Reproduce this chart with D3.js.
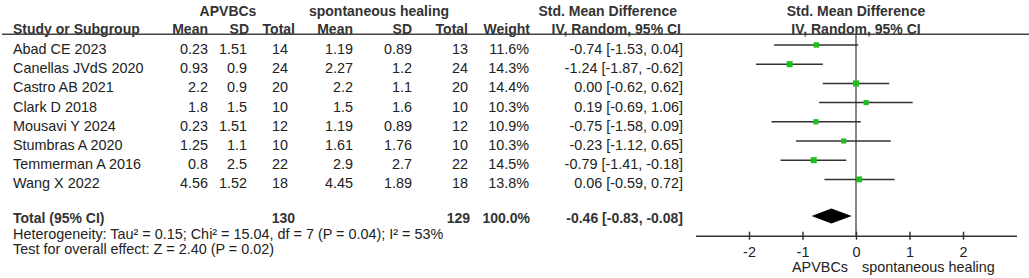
<!DOCTYPE html>
<html>
<head>
<meta charset="utf-8">
<script src="https://cdn.jsdelivr.net/npm/d3@7"></script>
<style>
  body { margin: 0; background: #fff; }
  svg { display: block; font-family: "Liberation Sans", Arial, sans-serif; }
</style>
</head>
<body>
<svg id="SVG_CONTAINER" width="1029" height="278"></svg>
<script>
// data
const studies = ["Abad CE 2023", "Canellas JVdS 2020", "Castro AB 2021", "Clark D 2018",
    "Mousavi Y 2024", "Stumbras A 2020", "Temmerman A 2016", "Wang X 2022"];
const expMean = ["0.23", "0.93", "2.2", "1.8", "0.23", "1.25", "0.8", "4.56"];
const expSD   = ["1.51", "0.9", "0.9", "1.5", "1.51", "1.1", "2.5", "1.52"];
const expN    = [14, 24, 20, 10, 12, 10, 22, 18];
const ctlMean = ["1.19", "2.27", "2.2", "1.5", "1.19", "1.61", "2.9", "4.45"];
const ctlSD   = ["0.89", "1.2", "1.1", "1.6", "0.89", "1.76", "2.7", "1.89"];
const ctlN    = [13, 24, 20, 10, 12, 10, 22, 18];
const weights = [11.6, 14.3, 14.4, 10.3, 10.9, 10.3, 14.5, 13.8];
const smd     = [-0.74, -1.24, 0.00, 0.19, -0.75, -0.23, -0.79, 0.06];
const lower   = [-1.53, -1.87, -0.62, -0.69, -1.58, -1.12, -1.41, -0.59];
const upper   = [0.04, -0.62, 0.62, 1.06, 0.09, 0.65, -0.18, 0.72];

const totalExpN = 130, totalCtlN = 129, totalWeight = "100.0%";
const pooled = { est: -0.46, lo: -0.83, hi: -0.08 };
const heterogeneity = "Heterogeneity: Tau² = 0.15; Chi² = 15.04, df = 7 (P = 0.04); I² = 53%";
const overall = "Test for overall effect: Z = 2.40 (P = 0.02)";
const tickValues = [-2, -1, 0, 1, 2];
const favourLeft = "APVBCs", favourRight = "spontaneous healing";

const svg = d3.select("#SVG_CONTAINER");
const TEXT = "#222", HEAD = "#333", GREEN = "#1dbf1d";

// plain hyphen for negatives, like RevMan output
let locale = d3.formatLocale({decimal: ".", thousands: ",", grouping: [3], currency: ["", ""], minus: "-"});
let fmt = locale.format(".2f");
let ciText = (e, l, h) => fmt(e) + " [" + fmt(l) + ", " + fmt(h) + "]";

//** SCALES *****************************************
let xScale = d3.scaleLinear().domain([-3, 3]).range([695.5, 1016.5]);
let yRow = d3.scaleLinear().domain([0, studies.length - 1]).range([54, 188.4]);
let side = d3.scaleSqrt().domain([0, 12]).range([0, 5.5]);

function txt(x, y, s, anchor, bold) {
    svg.append("text")
        .attr("x", x).attr("y", y)
        .attr("text-anchor", anchor || "start")
        .attr("font-size", bold ? "14px" : "14.4px")
        .attr("font-weight", bold ? "bold" : "normal")
        .attr("fill", bold ? HEAD : TEXT)
        .text(s);
}

//** HEADERS *****************************************
txt(228, 15.5, "APVBCs", "middle", true);
txt(379, 15.5, "spontaneous healing", "middle", true);
txt(677, 15.5, "Std. Mean Difference", "end", true);
txt(xScale(0), 15.5, "Std. Mean Difference", "middle", true);

txt(13, 33.5, "Study or Subgroup", "start", true);
txt(208, 33.5, "Mean", "end", true);
txt(249, 33.5, "SD", "end", true);
txt(295, 33.5, "Total", "end", true);
txt(353, 33.5, "Mean", "end", true);
txt(412, 33.5, "SD", "end", true);
txt(468, 33.5, "Total", "end", true);
txt(530, 33.5, "Weight", "end", true);
txt(681, 33.5, "IV, Random, 95% CI", "end", true);
txt(xScale(0), 33.5, "IV, Random, 95% CI", "middle", true);

svg.append("line")
    .attr("x1", 2).attr("x2", 1029)
    .attr("y1", 34.3).attr("y2", 34.3)
    .attr("stroke", "#444").attr("stroke-width", 1.5);

//** STUDY ROWS *****************************************
studies.forEach((s, i) => {
    let y = yRow(i);
    txt(13, y, s);
    txt(208, y, expMean[i], "end");
    txt(247, y, expSD[i], "end");
    txt(288, y, expN[i], "end");
    txt(353, y, ctlMean[i], "end");
    txt(412, y, ctlSD[i], "end");
    txt(468, y, ctlN[i], "end");
    txt(529, y, weights[i].toFixed(1) + "%", "end");
    txt(683, y, ciText(smd[i], lower[i], upper[i]), "end");
});

//** TOTAL ROW *****************************************
let yTot = 223.3;
txt(13, yTot, "Total (95% CI)", "start", true);
txt(295, yTot, totalExpN, "end", true);
txt(470, yTot, totalCtlN, "end", true);
txt(530, yTot, totalWeight, "end", true);
txt(683, yTot, ciText(pooled.est, pooled.lo, pooled.hi), "end", true);
txt(13, 238.5, heterogeneity);
txt(13, 253.5, overall);

//** FOREST PLOT *****************************************
let axisY = 235.7;
let plot = svg.append("g").attr("class", "forest");

plot.append("line")
    .attr("x1", xScale(0)).attr("x2", xScale(0))
    .attr("y1", 35).attr("y2", axisY)
    .attr("stroke", "#444").attr("stroke-width", 1.3);

plot.selectAll(".ci")
    .data(studies)
    .enter()
    .append("line")
    .attr("class", "ci")
    .attr("x1", (d, i) => xScale(lower[i]))
    .attr("x2", (d, i) => xScale(upper[i]))
    .attr("y1", (d, i) => yRow(i) - 9)
    .attr("y2", (d, i) => yRow(i) - 9)
    .attr("stroke", "#333").attr("stroke-width", 1.5);

plot.selectAll(".box")
    .data(studies)
    .enter()
    .append("rect")
    .attr("class", "box")
    .attr("x", (d, i) => xScale(smd[i]) - side(weights[i]) / 2)
    .attr("y", (d, i) => yRow(i) - 9 - side(weights[i]) / 2)
    .attr("width", (d, i) => side(weights[i]))
    .attr("height", (d, i) => side(weights[i]))
    .attr("fill", GREEN);

let dy = 216;
plot.append("path")
    .attr("d", "M" + xScale(pooled.lo) + "," + dy +
        "L" + xScale(pooled.est) + "," + (dy - 7.5) +
        "L" + xScale(pooled.hi) + "," + dy +
        "L" + xScale(pooled.est) + "," + (dy + 7.5) + "Z")
    .attr("fill", "#000");

//** AXIS *****************************************
let xAxis = d3.axisBottom(xScale)
    .tickValues(tickValues)
    .tickSizeInner(4)
    .tickSizeOuter(0)
    .tickFormat(locale.format("d"));

let ax = plot.append("g")
    .attr("transform", "translate(0," + axisY + ")")
    .call(xAxis);
ax.select(".domain").attr("stroke", "#333").attr("stroke-width", 1.5);
ax.selectAll(".tick line").attr("y1", -4).attr("stroke", "#333").attr("stroke-width", 1.5);
ax.selectAll(".tick text")
    .attr("y", 21.5).attr("dy", 0)
    .attr("font-size", "14.4px")
    .attr("font-family", "Liberation Sans, Arial, sans-serif")
    .attr("fill", TEXT);

txt(xScale(0) - 8, 272, favourLeft, "end");
txt(xScale(0) + 6, 272, favourRight, "start");
</script>
</body>
</html>
